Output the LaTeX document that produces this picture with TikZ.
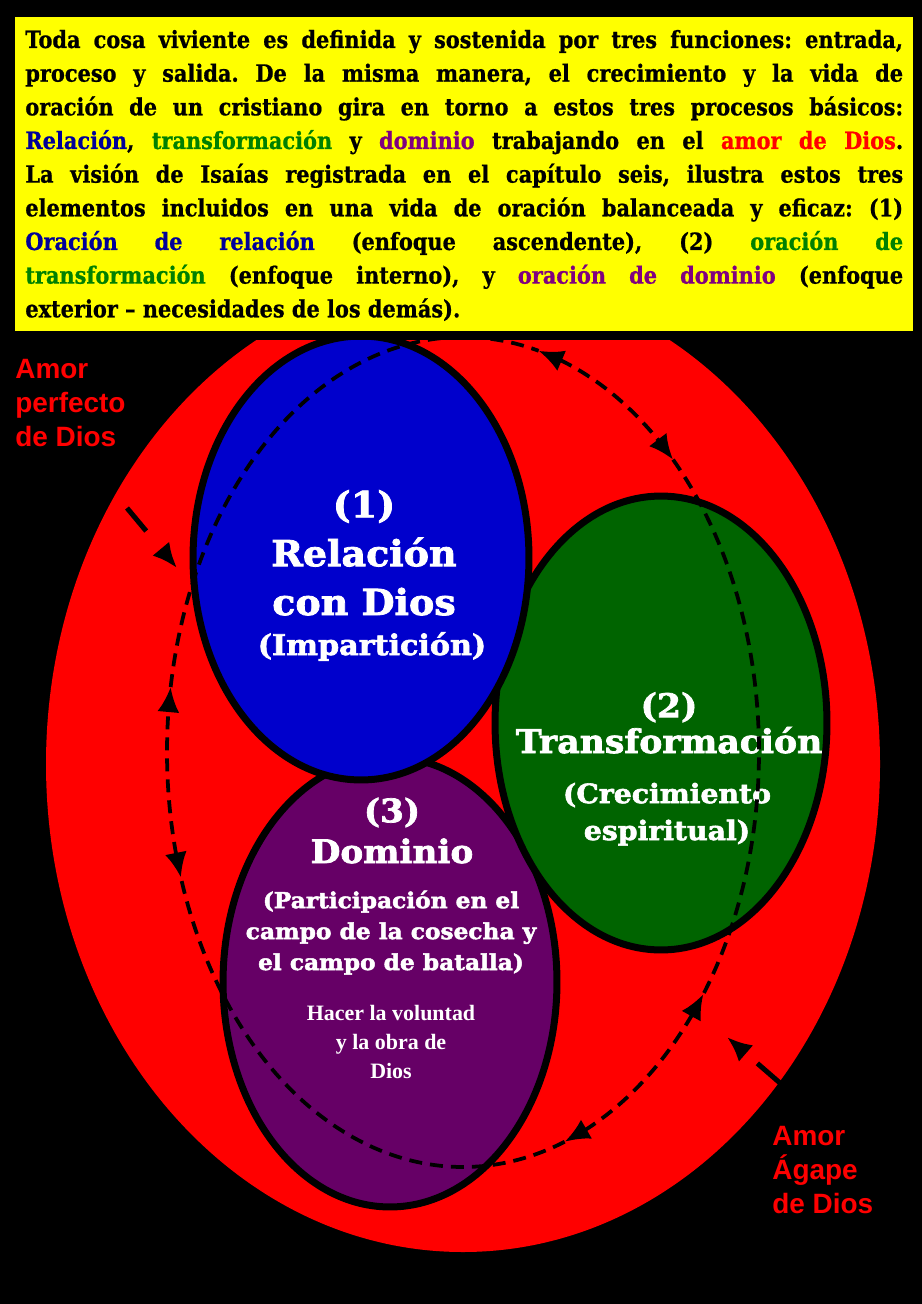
\documentclass[tikz,border=0pt]{standalone}
\usepackage{fontspec}
\usetikzlibrary{arrows.meta,bending,shapes.geometric,positioning}

\setmainfont{DejaVu Serif}
\newfontfamily\slabfont[FakeStretch=1.06,FakeBold=2.2]{DejaVu Serif}
\newfontfamily\parafont[FakeStretch=0.88,FakeBold=0.8]{DejaVu Serif}
\newfontfamily\timesfont{Liberation Serif}
\newfontfamily\arialfont{Liberation Sans}

\definecolor{relblue}{RGB}{0,0,204}
\definecolor{relink}{RGB}{0,0,153}
\definecolor{trgreen}{RGB}{0,100,0}
\definecolor{trink}{RGB}{0,128,0}
\definecolor{dompurple}{RGB}{102,0,102}
\definecolor{domink}{RGB}{128,0,128}
\definecolor{lovered}{RGB}{255,0,0}
\definecolor{notes}{RGB}{255,255,0}

\tikzset{
  bubble/.style={ellipse, draw=black, line width=1.4mm, inner sep=0pt, outer sep=0pt},
  bigtitle/.style={text=white, align=center, anchor=base, inner sep=0pt},
  lovelabel/.style={text=lovered, align=left, anchor=base west, inner sep=0pt,
    font=\arialfont\bfseries\fontsize{15.9}{19.3}\selectfont},
  loop/.style={line width=0.75mm, dash pattern=on 2.6mm off 1.6mm},
  looptip/.style={loop, {Latex[length=5mm,width=4.4mm]}-{Latex[length=5mm,width=4.4mm]}},
  stub/.style={line width=1mm, dash pattern=on 6mm off 6mm, -{Latex[length=5mm,width=4.4mm]}}
}

\begin{document}
\begin{tikzpicture}[x=0.02cm, y=-0.02cm]
  % page of 922x1304 units, black background
  \useasboundingbox (0,0) rectangle (922,1304);
  \fill[black] (0,0) rectangle (922,1304);

  % love of God, the big red ellipse
  \fill[lovered] (463,764) ellipse [x radius=417, y radius=488];

  % the three prayer ellipses
  \node[bubble, fill=dompurple, minimum width=6.68cm, minimum height=9cm] (dom) at (390,982) {};
  \node[bubble, fill=trgreen, minimum width=6.64cm, minimum height=9.08cm] (trans) at (661,723) {};
  \node[bubble, fill=relblue, minimum width=6.72cm, minimum height=8.88cm] (rel) at (361,558) {};

  % texts of the ellipses (anchored on their last line)
  \node[bigtitle, font=\slabfont\bfseries\fontsize{20.4}{27.8}\selectfont] (reltitle) at (364,615) {(1)\\Relación\\con Dios};
  \node[bigtitle, font=\slabfont\bfseries\fontsize{16.2}{18}\selectfont] (relsub) at (372,655) {(Impartición)};
  \node[bigtitle, font=\slabfont\bfseries\fontsize{18.6}{20.4}\selectfont] (transtitle) at (669,753) {(2)\\Transformación};
  \node[bigtitle, font=\slabfont\bfseries\fontsize{15.2}{21}\selectfont] (transsub) at (667,840) {(Crecimiento\\espiritual)};
  \node[bigtitle, font=\slabfont\bfseries\fontsize{18.4}{23.2}\selectfont] (domtitle) at (392,863) {(3)\\Dominio};
  \node[bigtitle, font=\slabfont\bfseries\fontsize{12.5}{17.6}\selectfont] (domsub) at (391,970) {(Participación en el\\campo de la cosecha y\\el campo de batalla)};
  \node[bigtitle, font=\timesfont\bfseries\fontsize{12.5}{16.4}\selectfont] (domnote) at (391,1078) {Hacer la voluntad\\y la obra de\\Dios};

  % dashed loop round the three ellipses, three double arrows
  \coordinate (lc) at (463,752);
  \draw[looptip] (lc) ++(-75.2:296 and 415) arc[start angle=-75.2, end angle=-44.8, x radius=296, y radius=415];
  \draw[loop] (lc) ++(-44.8:296 and 415) arc[start angle=-44.8, end angle=35.7, x radius=296, y radius=415];
  \draw[looptip] (lc) ++(35.7:296 and 415) arc[start angle=35.7, end angle=69.9, x radius=296, y radius=415];
  \draw[loop] (lc) ++(69.9:296 and 415) arc[start angle=69.9, end angle=162.4, x radius=296, y radius=415];
  \draw[looptip] (lc) ++(162.4:296 and 415) arc[start angle=162.4, end angle=189, x radius=296, y radius=415];
  \draw[loop] (lc) ++(189:296 and 415) arc[start angle=189, end angle=284.8, x radius=296, y radius=415];

  % the two labels of love and their arrows
  \node[lovelabel] (perfect) at (15,446) {Amor\\perfecto\\de Dios};
  \node[lovelabel] (agape) at (772,1213) {Amor\\Ágape\\de Dios};
  \coordinate (perfstart) at (127,508);
  \coordinate (perfend) at (177,568);
  \coordinate (agstart) at (780,1083);
  \coordinate (agend) at (727,1037);
  \draw[stub] (perfstart) -- (perfend);
  \draw[stub] (agstart) -- (agend);

  % yellow note on top, with its black frame
  \fill[black] (6,8) rectangle (922,340);
  \fill[notes] (15,17) rectangle (913,331);
  \node[anchor=base west, inner sep=0pt, text width=17.56cm, align=justify,
    font=\parafont\bfseries\fontsize{13.5}{19.16}\selectfont] (note) at (25,48)
    {\frenchspacing Toda cosa viviente es definida y sostenida por tres funciones: entrada,\linebreak
     proceso y salida. De la misma manera, el crecimiento y la vida de\linebreak
     oración de un cristiano gira en torno a estos tres procesos básicos:\linebreak
     {\color{relink}Relación}, {\color{trink}transformación} y {\color{domink}dominio} trabajando en el {\color{lovered}amor de Dios}.\linebreak
     La visión de Isaías registrada en el capítulo seis, ilustra estos tres\linebreak
     elementos incluidos en una vida de oración balanceada y eficaz: (1)\linebreak
     {\color{relink}Oración de relación} (enfoque ascendente), (2) {\color{trink}oración de}\linebreak
     {\color{trink}transformación} (enfoque interno), y {\color{domink}oración de dominio} (enfoque\linebreak
     exterior – necesidades de los demás).};
\end{tikzpicture}
\end{document}
